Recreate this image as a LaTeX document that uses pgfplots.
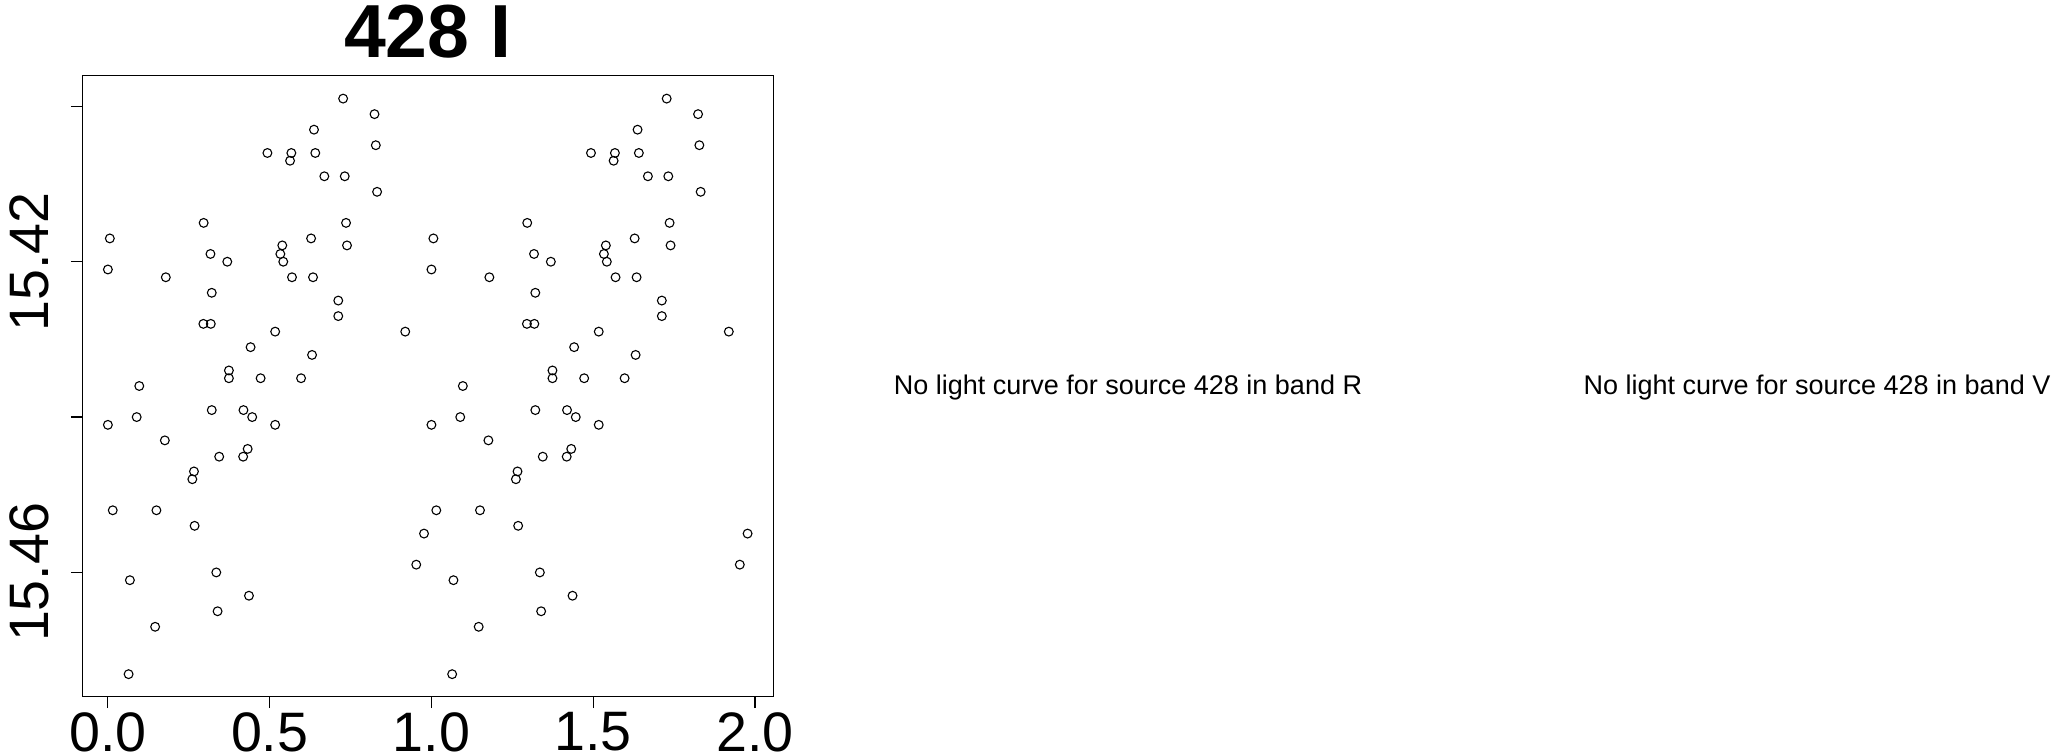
\documentclass[border=0pt]{standalone}
\usepackage{fontspec}
\setmainfont{Liberation Sans}
\usepackage{pgfplots}
\pgfplotsset{compat=1.18}
\usepackage{pgfplotstable}

% phase, magnitude (phase and phase+1)
\pgfplotstableread{
p m
0.727 15.3990
0.824 15.4010
0.637 15.4030
0.828 15.4050
0.493 15.4060
0.567 15.4060
0.641 15.4060
0.563 15.4070
0.669 15.4090
0.732 15.4090
0.832 15.4110
0.296 15.4150
0.736 15.4150
0.006 15.4170
0.628 15.4170
0.539 15.4179
0.739 15.4179
0.317 15.4190
0.533 15.4190
0.369 15.4200
0.542 15.4200
0.000 15.4210
0.179 15.4220
0.569 15.4220
0.634 15.4220
0.321 15.4240
0.712 15.4250
0.712 15.4270
0.295 15.4280
0.318 15.4280
0.517 15.4290
0.919 15.4290
0.441 15.4310
0.631 15.4320
0.374 15.4340
0.374 15.4350
0.472 15.4350
0.597 15.4350
0.097 15.4360
0.321 15.4391
0.419 15.4391
0.089 15.4400
0.446 15.4400
0.000 15.4410
0.517 15.4410
0.176 15.4430
0.432 15.4441
0.344 15.4451
0.418 15.4451
0.266 15.4470
0.261 15.4480
0.015 15.4520
0.150 15.4520
0.268 15.4540
0.977 15.4550
0.953 15.4590
0.335 15.4600
0.068 15.4610
0.436 15.4630
0.339 15.4650
0.146 15.4670
0.064 15.4731
1.727 15.3990
1.824 15.4010
1.637 15.4030
1.828 15.4050
1.493 15.4060
1.567 15.4060
1.641 15.4060
1.563 15.4070
1.669 15.4090
1.732 15.4090
1.832 15.4110
1.296 15.4150
1.736 15.4150
1.006 15.4170
1.628 15.4170
1.539 15.4179
1.739 15.4179
1.317 15.4190
1.533 15.4190
1.369 15.4200
1.542 15.4200
1.000 15.4210
1.179 15.4220
1.569 15.4220
1.634 15.4220
1.321 15.4240
1.712 15.4250
1.712 15.4270
1.295 15.4280
1.318 15.4280
1.517 15.4290
1.919 15.4290
1.441 15.4310
1.631 15.4320
1.374 15.4340
1.374 15.4350
1.472 15.4350
1.597 15.4350
1.097 15.4360
1.321 15.4391
1.419 15.4391
1.089 15.4400
1.446 15.4400
1.000 15.4410
1.517 15.4410
1.176 15.4430
1.432 15.4441
1.344 15.4451
1.418 15.4451
1.266 15.4470
1.261 15.4480
1.015 15.4520
1.150 15.4520
1.268 15.4540
1.977 15.4550
1.953 15.4590
1.335 15.4600
1.068 15.4610
1.436 15.4630
1.339 15.4650
1.146 15.4670
1.064 15.4731
}\lcI

\begin{document}
\begin{tikzpicture}
\useasboundingbox (0,0) rectangle (1029pt,377pt);
\begin{axis}[
    at={(41.15pt,28.65pt)}, anchor=south west,
    scale only axis,
    width=345.5pt, height=310.7pt,
    xmin=-0.0791, xmax=2.0565,
    ymin=15.3960, ymax=15.4760,
    y dir=reverse,
    axis line style={line width=0.6pt},
    xtick={0,0.5,1,1.5,2},
    xticklabels={0.0,0.5,1.0,1.5,2.0},
    ytick={15.40,15.42,15.44,15.46},
    yticklabels={{},15.42,{},15.46},
    xtick pos=bottom, ytick pos=left,
    tick align=outside,
    major tick length=5.7pt,
    tick style={line width=0.6pt, black},
    /pgf/number format/assume math mode=true,
    tick label style={font=\fontsize{27.8}{30}\selectfont},
    xticklabel style={anchor=north, inner sep=1pt},
    yticklabel style={rotate=90, anchor=south, inner sep=0pt},
    xticklabel shift=1pt,
    yticklabel shift=10.5pt,
    every axis title shift=0pt,
    title={428 I},
    title style={font=\fontsize{37.6}{40}\selectfont\bfseries,
                 at={(0.5,1)}, anchor=base, yshift=9.15pt, inner sep=0pt},
    clip=false,
]
\addplot[only marks, mark=o, mark size=2.2pt,
         mark options={line width=0.55pt, black}] table[x=p, y=m] {\lcI};
\end{axis}
\node[anchor=base, inner sep=0pt, font=\fontsize{13.5}{15}\selectfont]
  at (564pt,179.5pt) {No light curve for source 428 in band R};
\node[anchor=base, inner sep=0pt, font=\fontsize{13.5}{15}\selectfont]
  at (908.5pt,179.5pt) {No light curve for source 428 in band V};
\end{tikzpicture}
\end{document}
